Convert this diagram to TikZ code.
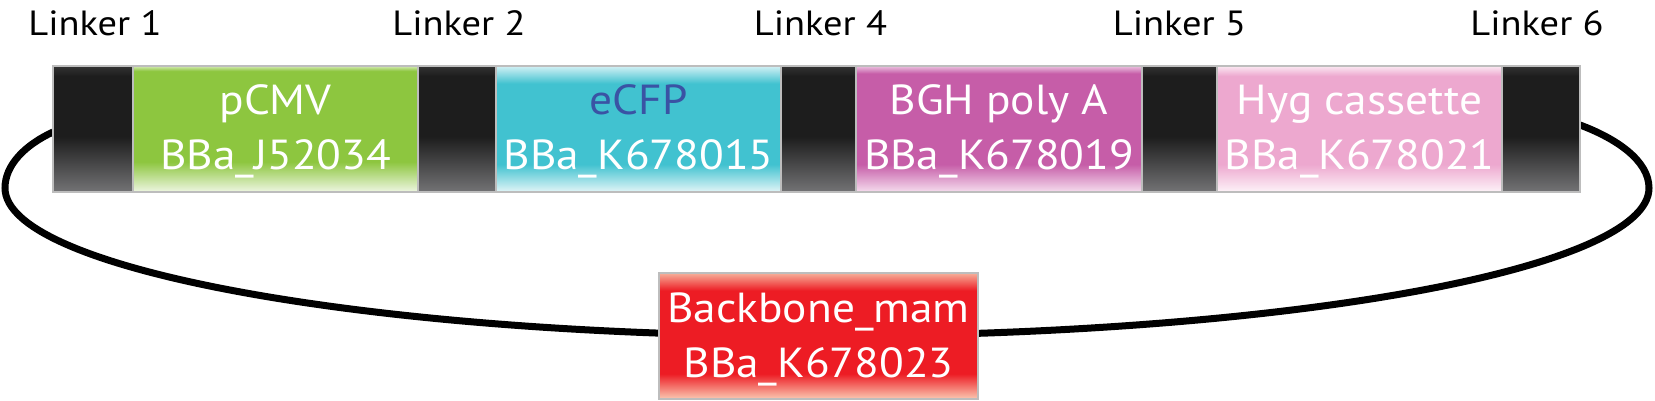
\documentclass[tikz,border=0pt]{standalone}
\usepackage{fontspec}
\setmainfont{PT Sans}
\newfontfamily\boxfont[FakeStretch=1.08]{PT Sans}
\newfontfamily\lkfont[FakeStretch=1.1]{PT Sans}
\usetikzlibrary{backgrounds}
\definecolor{edge}{HTML}{BDBDBD}
\definecolor{lkTop}{HTML}{333333}
\definecolor{lkMain}{HTML}{1D1D1D}
\definecolor{lkBot}{HTML}{737375}
\definecolor{gMain}{HTML}{8DC63F}
\definecolor{gTop}{HTML}{D4EAB4}
\definecolor{gBot}{HTML}{EEF6E2}
\definecolor{cMain}{HTML}{41C2D0}
\definecolor{cTop}{HTML}{D2F0F4}
\definecolor{cBot}{HTML}{E2F5F7}
\definecolor{mMain}{HTML}{C65DA8}
\definecolor{mTop}{HTML}{EBC2DF}
\definecolor{mBot}{HTML}{F5DDEE}
\definecolor{pMain}{HTML}{EDA8CF}
\definecolor{pTop}{HTML}{FBE8F2}
\definecolor{pBot}{HTML}{FDF3F8}
\definecolor{rMain}{HTML}{ED1C24}
\definecolor{rTop}{HTML}{F7B09A}
\definecolor{rBot}{HTML}{FAC9B2}
\definecolor{cfpText}{HTML}{3A53A4}
\pgfdeclareverticalshading{lksh}{100bp}{color(0bp)=(lkBot); color(25bp)=(lkBot); color(47bp)=(lkMain); color(71bp)=(lkMain); color(75bp)=(lkTop); color(100bp)=(lkTop)}
\pgfdeclareverticalshading{greensh}{100bp}{color(0bp)=(gBot); color(25bp)=(gBot); color(37bp)=(gMain); color(73bp)=(gMain); color(75bp)=(gTop); color(100bp)=(gTop)}
\pgfdeclareverticalshading{cyansh}{100bp}{color(0bp)=(cBot); color(25bp)=(cBot); color(36bp)=(cMain); color(68bp)=(cMain); color(75bp)=(cTop); color(100bp)=(cTop)}
\pgfdeclareverticalshading{magsh}{100bp}{color(0bp)=(mBot); color(25bp)=(mBot); color(36bp)=(mMain); color(72bp)=(mMain); color(75bp)=(mTop); color(100bp)=(mTop)}
\pgfdeclareverticalshading{pinksh}{100bp}{color(0bp)=(pBot); color(25bp)=(pBot); color(36bp)=(pMain); color(71bp)=(pMain); color(75bp)=(pTop); color(100bp)=(pTop)}
\pgfdeclareverticalshading{redsh}{100bp}{color(0bp)=(rBot); color(25bp)=(rBot); color(35bp)=(rMain); color(68bp)=(rMain); color(75bp)=(rTop); color(100bp)=(rTop)}
\begin{document}
\begin{tikzpicture}[x=1pt,y=-1pt,
  partbox/.style={shade, draw=edge, line width=1.3pt, minimum height=126pt, inner sep=0pt, outer sep=0pt, anchor=north west},
  lkbox/.style={partbox, shading=lksh, minimum width=#1},
  boxtxt/.style={text=white, font=\boxfont\fontsize{42}{42}\selectfont, anchor=base, inner sep=0pt},
  linktxt/.style={text=black, font=\lkfont\fontsize{35}{35}\selectfont, anchor=base, inner sep=0pt},
  loopline/.style={draw=black, line width=7pt}]
\useasboundingbox (0,0) rectangle (1655,401);
% bar parts
\node[lkbox=80pt] (L1) at (53,66) {};
\node[partbox, shading=greensh, minimum width=285pt] (pcmv) at (133,66) {};
\node[lkbox=78pt] (L2) at (418,66) {};
\node[partbox, shading=cyansh, minimum width=285pt] (ecfp) at (496,66) {};
\node[lkbox=75pt] (L4) at (781,66) {};
\node[partbox, shading=magsh, minimum width=286pt] (bgh) at (856,66) {};
\node[lkbox=75pt] (L5) at (1142,66) {};
\node[partbox, shading=pinksh, minimum width=285pt] (hyg) at (1217,66) {};
\node[lkbox=78pt] (L6) at (1502,66) {};
\node[partbox, shading=redsh, minimum width=319pt] (bb) at (659,273) {};
% linker labels
\node[linktxt] (t1) at ([xshift=2pt]L1.north |- 0,36) {Linker 1};
\node[linktxt] (t2) at ([xshift=2pt]L2.north |- 0,36) {Linker 2};
\node[linktxt] (t4) at ([xshift=2pt]L4.north |- 0,36) {Linker 4};
\node[linktxt] (t5) at (L5.north |- 0,36) {Linker 5};
\node[linktxt] (t6) at ([xshift=-4pt]L6.north |- 0,36) {Linker 6};
% part labels
\node[boxtxt] (pcmvA) at ([yshift=-49pt]pcmv.north) {pCMV};
\node[boxtxt] (pcmvB) at ([yshift=-104pt]pcmv.north) {BBa\_J52034};
\node[boxtxt, text=cfpText] (ecfpA) at ([yshift=-49pt]ecfp.north) {eCFP};
\node[boxtxt] (ecfpB) at ([yshift=-104pt]ecfp.north) {BBa\_K678015};
\node[boxtxt] (bghA) at ([yshift=-49pt]bgh.north) {BGH poly A};
\node[boxtxt] (bghB) at ([yshift=-104pt]bgh.north) {BBa\_K678019};
\node[boxtxt] (hygA) at ([yshift=-49pt]hyg.north) {Hyg cassette};
\node[boxtxt] (hygB) at ([yshift=-104pt]hyg.north) {BBa\_K678021};
\node[boxtxt] (bbA) at ([yshift=-49pt]bb.north) {Backbone\_mam};
\node[boxtxt] (bbB) at ([yshift=-104pt]bb.north) {BBa\_K678023};
% loop
\begin{scope}[on background layer]
\draw[loopline] ([yshift=-3pt]L1.west) .. controls (25,145) and (5,165) .. (5,188)
  .. controls (5,270) and (373,336) .. (bb.center);
\draw[loopline] ([yshift=4pt]L6.east) .. controls (1615,138) and (1649,160) .. (1649,188)
  .. controls (1649,270) and (1283,336) .. (bb.center);
\end{scope}
\end{tikzpicture}
\end{document}
